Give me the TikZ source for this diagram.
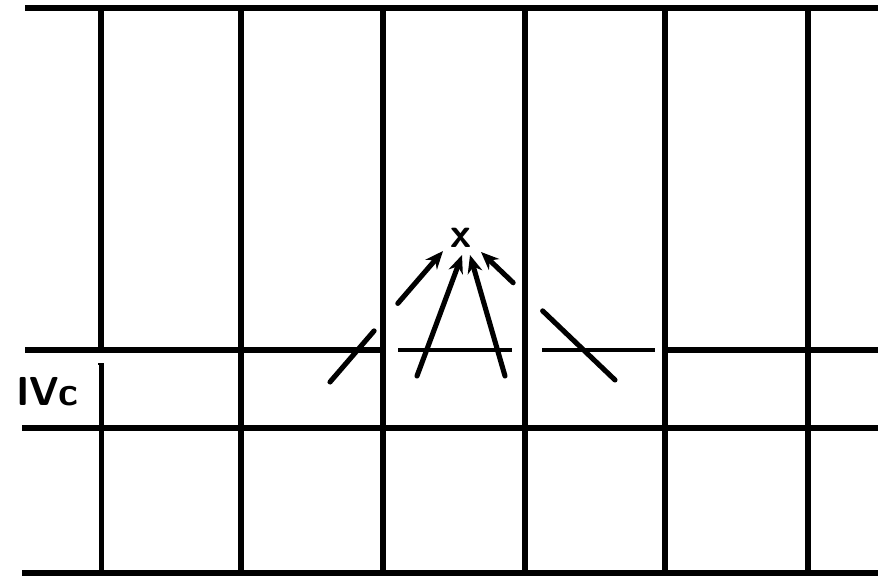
\documentclass[tikz,border=0pt]{standalone}
\usepackage{tikz}
\usetikzlibrary{arrows.meta,calc,positioning}

\begin{document}
\begin{tikzpicture}[
    x=0.02cm, y=-0.02cm,
    gridline/.style={line width=3.4pt},
    midline/.style={line width=2.6pt},
    ray/.style={line width=2.9pt, line cap=round},
    arrow/.style={-{Stealth[length=0.36cm,width=0.3cm]}, line width=2.9pt, line cap=round},
    label/.style={font=\sffamily\bfseries\fontsize{23}{23}\selectfont, inner sep=0pt}
]
\useasboundingbox (0,0) rectangle (878,577);

% grid
\draw[gridline] (25,8) -- (878,8);
\draw[gridline] (101,8) -- (101,348);
\foreach \xx in {241,383,525,665,808}
    \draw[gridline] (\xx,8) -- (\xx,575);
\draw[gridline] (25,350) -- (383,350);
\draw[midline] (398,350) -- (512,350);
\draw[midline] (542,350) -- (655,350);
\draw[gridline] (665,350) -- (878,350);
\draw[gridline] (22,428) -- (878,428);
\draw[gridline] (22,573) -- (878,573);

% scale bar
\draw[line width=3.2pt] (101.5,364) -- (101.5,573);
\draw[line width=1pt] (98,364) -- (104,364);
\fill (101.5,428) circle (4);
\node[label] (zone) at (47,392) {IVc};

% target and rays
\node[label, font=\sffamily\bfseries\fontsize{24}{24}\selectfont] (target) at (461,238) {x};
\coordinate (ta) at (330,382);
\coordinate (ha) at (443,251);
\coordinate (tb) at (417,376);
\coordinate (hb) at (462,255);
\coordinate (tc) at (505,376);
\coordinate (hc) at (470,255);
\coordinate (td) at (615,380);
\coordinate (hd) at (481,252);

\draw[ray] (ta) -- ($(ta)!0.39!(ha)$);
\draw[arrow] ($(ta)!0.6!(ha)$) -- (ha);
\draw[arrow] (tb) -- (hb);
\draw[arrow] (tc) -- (hc);
\draw[ray] (td) -- ($(td)!0.54!(hd)$);
\draw[arrow] ($(td)!0.76!(hd)$) -- (hd);

\end{tikzpicture}
\end{document}
